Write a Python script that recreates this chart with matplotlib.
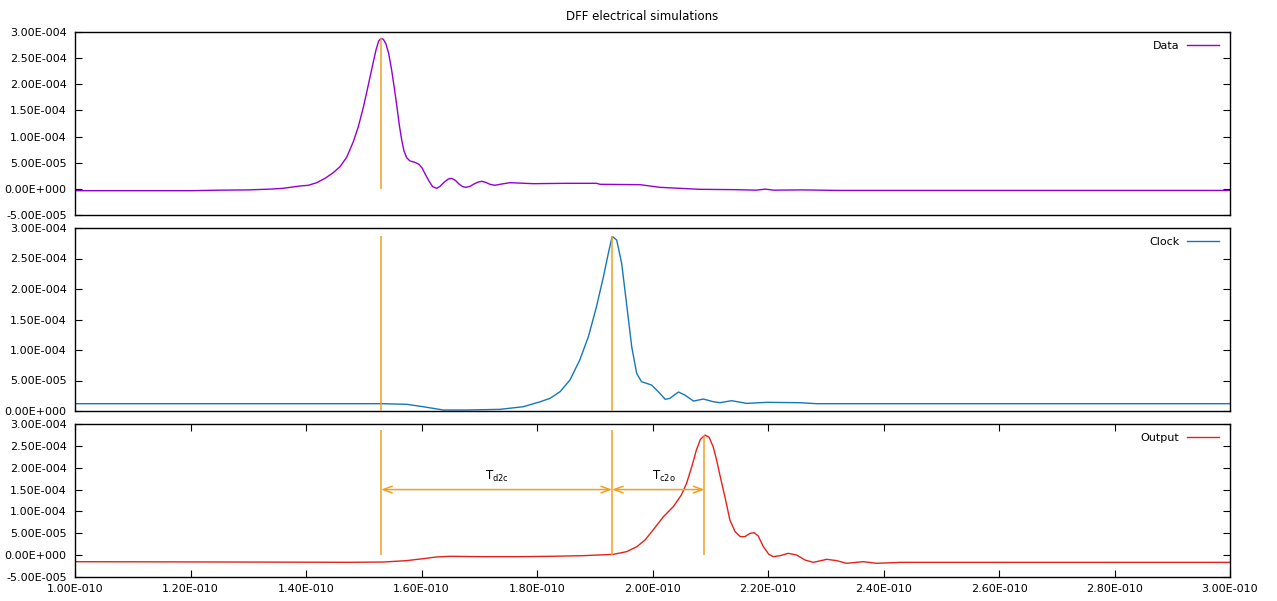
import numpy as np
import matplotlib.pyplot as plt
from matplotlib.ticker import FixedLocator, FuncFormatter

# Simulated currents, time in ps, current in uA
data_t = [100, 120, 125, 130, 133.8, 136, 138.96, 140.40, 141.85, 143.29, 144.73, 145.89,
          147.04, 148.20, 149.06, 149.93, 150.79, 151.54, 152.12, 152.58, 152.99, 153.39,
          153.85, 154.31, 154.83, 155.30, 155.76, 156.16, 156.57, 156.97, 157.43, 158.01,
          158.87, 159.57, 160.14, 160.72, 161.36, 161.93, 162.63, 163.20, 163.90, 164.65,
          165.22, 165.86, 166.49, 167.13, 167.70, 168.40, 169.09, 169.84, 170.42, 171.11,
          171.86, 172.73, 173.59, 175.32, 179.36, 185.14, 190.33, 190.91, 197.83, 201.30,
          208.22, 214, 218, 219.5, 221, 226, 232, 260, 300]
data_i = [-3.5, -3.5, -2.5, -2, -0.5, 1.0, 5.5, 6.8, 11.8, 20.1, 31.0, 42.5,
          60.3, 90.3, 119, 155.9, 198.6, 236.9, 265.6, 282.8, 287.9, 286,
          277.1, 259.2, 227.3, 192.3, 155.9, 122.1, 93.5, 72.4, 59.6, 53.3,
          50.7, 46.9, 39.3, 26.5, 13.8, 4.2, 1.0, 4.8, 12.5, 18.9,
          20.1, 16.3, 9.3, 4.2, 2.9, 4.8, 9.3, 13.1, 14.4, 12.5,
          8.7, 6.8, 8.7, 11.8, 9.9, 10.6, 10.6, 8.7, 8.0, 2.9,
          -0.9, -1.5, -2.5, -0.5, -2.5, -2, -3, -3, -3]

clock_t = [100, 140, 153.1, 157.4, 160.3, 163.8, 167.8, 173.6, 177.6, 180.5, 182.25, 184.0,
           185.7, 187.4, 188.9, 190.3, 191.5, 192.35, 192.9, 193.1, 193.8, 194.66, 195.5,
           196.4, 197.26, 198.1, 198.99, 199.85, 201.0, 202.2, 203.0, 204.5, 205.6, 207.1,
           208.8, 210.5, 211.7, 213.7, 216.3, 219.8, 225.5, 228.4, 242.9, 270, 300]
clock_i = [12, 12, 12, 11, 7, 1.6, 1.6, 2.7, 7, 15, 20.7, 31.7,
           50.8, 83.5, 121.8, 171, 220, 258.4, 281.4, 285.7, 280.2, 242, 176.4,
           105.4, 61.7, 48, 45.3, 42.5, 31.7, 19.1, 20.7, 31.1, 26.2, 16.3,
           19.6, 15.3, 13.6, 16.9, 12.5, 14.2, 13.6, 12, 12, 12, 12]

output_t = [100, 120, 147.6, 153.4, 157.4, 160.3, 162.6, 164.9, 170.7, 176.5, 182.3, 188.0,
            193.2, 195.5, 197.3, 198.7, 200.1, 201.9, 203.6, 205.0, 205.9, 206.8, 207.6,
            208.3, 209.1, 209.8, 210.5, 211.1, 211.8, 212.6, 213.4, 214.3, 215.2, 216.0,
            216.9, 217.6, 218.3, 219.2, 220.1, 220.9, 222.1, 223.5, 224.96, 226.4, 227.85,
            230.2, 231.9, 233.6, 236.5, 238.8, 242.9, 260, 300]
output_i = [-15, -15.5, -16.4, -15.7, -12.6, -8.1, -4.2, -2.7, -3.5, -3.5, -2.7, -1.2,
            1.8, 7.9, 19.4, 34.6, 57.5, 88, 110.9, 137.6, 164.3, 202.4, 240.5,
            264.9, 274.8, 269.5, 248.1, 217.6, 175.7, 129.9, 80.4, 53.7, 42.3, 42.3,
            49.9, 51.4, 43.8, 19.4, 2.6, -3.5, -1.2, 4.1, 0.3, -11.1, -16.5,
            -9.6, -12.6, -18.7, -14.9, -18.7, -16.5, -16.5, -16.5]

# Marker positions (ps) and peak heights (uA)
t_data_peak = 153
t_clock_peak = 193
t_output_peak = 209
data_peak = 288
clock_peak = 287
output_peak = 275
arrow_level = 150

purple = '#9400d3'
blue = '#1677b8'
red = '#e5211c'
orange = '#f0a020'

plt.rcParams['font.family'] = 'DejaVu Sans'
plt.rcParams['font.size'] = 8


def sci_fmt(v, pos=None):
    if abs(v) < 1e-30:
        return '0.00E+000'
    e = int(np.floor(np.log10(abs(v))))
    m = v / 10.0 ** e
    if round(abs(m), 2) >= 10:
        m /= 10
        e += 1
    sign = '+' if e >= 0 else '-'
    return f'{m:.2f}E{sign}{abs(e):03d}'


ps = 1e-12
ua = 1e-6

fig = plt.figure(figsize=(12.77, 6.01), dpi=100)
W, H = 1277, 601
left, right = 75 / W, 1230 / W
plot_w = 1230 - 75


def make_axes(top_px, bottom_px):
    return fig.add_axes([left, (H - bottom_px) / H, right - left, (bottom_px - top_px) / H])


ax1 = make_axes(32, 215)
ax2 = make_axes(228, 411)
ax3 = make_axes(424, 577)
heights = {ax1: 183, ax2: 183, ax3: 153}

xticks = np.arange(100, 301, 20) * ps

for ax, ylo in ((ax1, -50), (ax2, 0), (ax3, -50)):
    ax.set_xlim(100 * ps, 300 * ps)
    ax.set_ylim(ylo * ua, 300 * ua)
    ax.yaxis.set_major_locator(FixedLocator(np.arange(ylo, 301, 50) * ua))
    ax.yaxis.set_major_formatter(FuncFormatter(sci_fmt))
    ax.tick_params(axis='y', direction='in', left=True, right=True, length=5, width=0.8, pad=6)
    for s in ax.spines.values():
        s.set_linewidth(1.0)

for ax in (ax1, ax2):
    ax.set_xticks([])

ax3.set_xticks(xticks)
ax3.xaxis.set_major_formatter(FuncFormatter(sci_fmt))
ax3.tick_params(axis='x', direction='in', top=True, bottom=True, length=5, width=0.8, pad=5)

ax1.plot(np.array(data_t) * ps, np.array(data_i) * ua, color=purple, lw=1.0, label='Data')
ax2.plot(np.array(clock_t) * ps, np.array(clock_i) * ua, color=blue, lw=1.0, label='Clock')
ax3.plot(np.array(output_t) * ps, np.array(output_i) * ua, color=red, lw=1.0, label='Output')

# peak markers
ax1.vlines(t_data_peak * ps, 0, data_peak * ua, color=orange, lw=1.1, zorder=3)
ax2.vlines([t_data_peak * ps, t_clock_peak * ps], 0, clock_peak * ua, color=orange, lw=1.1, zorder=3)
ax3.vlines([t_data_peak * ps, t_clock_peak * ps], 0, clock_peak * ua, color=orange, lw=1.1, zorder=3)
ax3.vlines(t_output_peak * ps, 0, output_peak * ua, color=orange, lw=1.1, zorder=3)

arrow = dict(arrowstyle='<->,head_length=0.8,head_width=0.3', color=orange, lw=1.1,
             shrinkA=0, shrinkB=0)
ax3.annotate('', xy=(t_clock_peak * ps, arrow_level * ua),
             xytext=(t_data_peak * ps, arrow_level * ua), arrowprops=arrow)
ax3.annotate('', xy=(t_output_peak * ps, arrow_level * ua),
             xytext=(t_clock_peak * ps, arrow_level * ua), arrowprops=arrow)
ax3.text((t_data_peak + t_clock_peak) / 2 * ps, 181 * ua, r'T$_{\mathregular{d2c}}$',
         ha='center', va='center', fontsize=8.5)
ax3.text(202 * ps, 181 * ua, r'T$_{\mathregular{c2o}}$',
         ha='center', va='center', fontsize=8.5)

for ax in (ax1, ax2, ax3):
    ax.legend(loc='upper right', frameon=False, markerfirst=False, handlelength=2.9,
              handletextpad=0.7, borderaxespad=0.3, borderpad=0.4, fontsize=8,
              bbox_to_anchor=(1 - 3 / plot_w, 1 - 1 / heights[ax]))

fig.text(0.503, 1 - 17 / H, 'DFF electrical simulations', ha='center', va='center', fontsize=8.5)

fig.savefig('out.png', dpi=100)
